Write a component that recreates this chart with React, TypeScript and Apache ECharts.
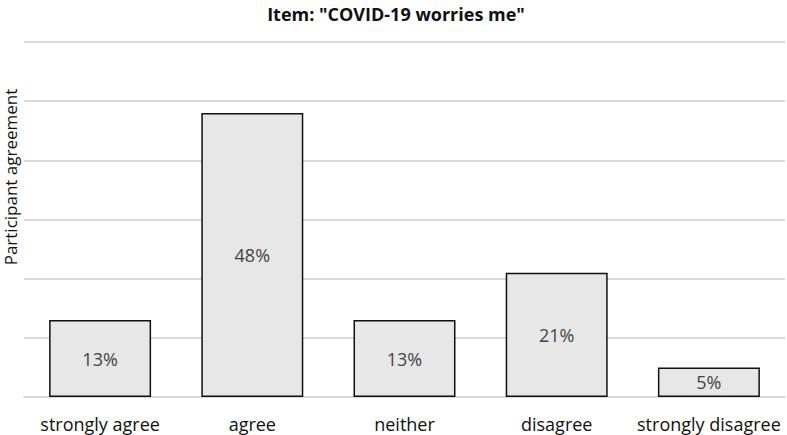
import React, { useEffect, useRef } from "react";
import * as echarts from "echarts";

const categories = ["strongly agree", "agree", "neither", "disagree", "strongly disagree"];
const values = [13, 48, 13, 21, 5];
const titleText = 'Item: "COVID-19 worries me"';
const yAxisName = "Participant agreement";

export default function App() {
  const ref = useRef<HTMLDivElement>(null);
  useEffect(() => {
    const chart = echarts.init(ref.current!, null, { renderer: "svg" });
    const font = "'Open Sans', Lato, sans-serif";
    chart.setOption({
      animation: false,
      title: {
        text: titleText,
        left: 391,
        top: 0,
        textAlign: "center",
        textStyle: { fontFamily: font, fontSize: 18, fontWeight: "bold", color: "#111" },
      },
      graphic: [
        {
          type: "text",
          x: 10,
          y: 177,
          rotation: Math.PI / 2,
          style: {
            text: yAxisName,
            fontFamily: font,
            fontSize: 17,
            fill: "#111",
            align: "center",
            verticalAlign: "middle",
          },
        },
      ],
      grid: { left: 24, right: 2, top: 42, bottom: 38, containLabel: false, outerBoundsMode: "none" },
      xAxis: {
        type: "category",
        data: categories,
        axisLine: { show: true, lineStyle: { color: "#d9d9d9", width: 2 } },
        axisTick: { show: false },
        axisLabel: { fontFamily: font, fontSize: 18, color: "#111", margin: 18, interval: 0 },
      },
      yAxis: {
        type: "value",
        min: 0,
        max: 60,
        interval: 10,
        axisLabel: { show: false },
        axisLine: { show: false },
        axisTick: { show: false },
        splitLine: { lineStyle: { color: "#d9d9d9", width: 2 } },
      },
      series: [
        {
          type: "bar",
          data: values,
          barWidth: "67%",
          itemStyle: { color: "#e7e7e7", borderColor: "#111", borderWidth: 1.5 },
          label: {
            show: true,
            position: "inside",
            formatter: "{c}%",
            fontFamily: font,
            fontSize: 18,
            color: "#444",
          },
        },
      ],
    });
    return () => chart.dispose();
  }, []);
  return <div ref={ref} style={{ width: 787, height: 435, position: "absolute", left: 0, top: 0 }} />;
}
